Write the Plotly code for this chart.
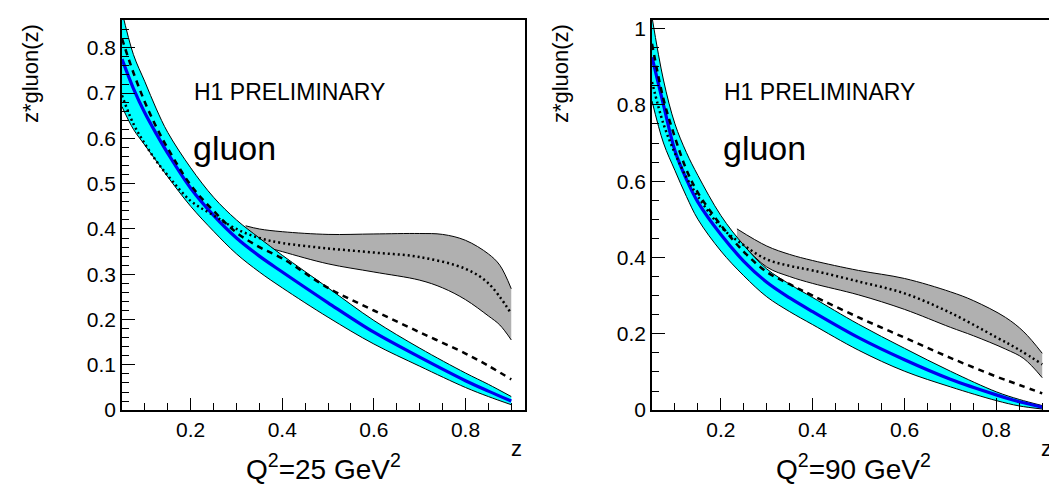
import plotly.graph_objects as go

# ---------------- data ----------------
z = [0.05, 0.075, 0.1, 0.125, 0.15, 0.2, 0.25, 0.3, 0.35, 0.4, 0.5, 0.6, 0.7, 0.8, 0.85, 0.9]

# Q^2 = 25 GeV^2
q25_cyan_hi = [0.88, 0.785, 0.725, 0.665, 0.613, 0.535, 0.47, 0.42, 0.38, 0.342, 0.27, 0.198, 0.137, 0.082, 0.057, 0.03]
q25_blue    = [0.775, 0.71, 0.656, 0.61, 0.567, 0.49, 0.43, 0.38, 0.34, 0.305, 0.237, 0.172, 0.117, 0.065, 0.042, 0.02]
q25_cyan_lo = [0.67, 0.62, 0.585, 0.55, 0.515, 0.45, 0.395, 0.345, 0.305, 0.27, 0.205, 0.146, 0.097, 0.05, 0.03, 0.012]
q25_dashed  = [0.82, 0.745, 0.68, 0.625, 0.578, 0.497, 0.44, 0.392, 0.36, 0.335, 0.27, 0.22, 0.172, 0.125, 0.098, 0.068]
q25_dotted  = [0.695, 0.632, 0.588, 0.55, 0.518, 0.462, 0.43, 0.40, 0.38, 0.369, 0.357, 0.348, 0.338, 0.312, 0.28, 0.213]
q25_zg      = [0.32, 0.35, 0.4, 0.5, 0.6, 0.7, 0.75, 0.8, 0.85, 0.875, 0.9]
q25_gray_hi = [0.407, 0.4, 0.394, 0.388, 0.389, 0.39, 0.388, 0.375, 0.345, 0.32, 0.268]
q25_gray_lo = [0.38, 0.365, 0.35, 0.323, 0.305, 0.287, 0.27, 0.244, 0.208, 0.188, 0.155]

# Q^2 = 90 GeV^2
q90_cyan_hi = [1.03, 0.865, 0.75, 0.675, 0.615, 0.51, 0.432, 0.37, 0.33, 0.295, 0.225, 0.162, 0.102, 0.048, 0.028, 0.012]
q90_blue    = [0.925, 0.8, 0.68, 0.605, 0.545, 0.46, 0.39, 0.335, 0.294, 0.258, 0.19, 0.132, 0.081, 0.04, 0.022, 0.008]
q90_cyan_lo = [0.81, 0.7, 0.628, 0.56, 0.5, 0.417, 0.352, 0.297, 0.258, 0.224, 0.157, 0.102, 0.061, 0.025, 0.011, 0.003]
q90_dashed  = [0.96, 0.815, 0.715, 0.63, 0.57, 0.485, 0.415, 0.362, 0.33, 0.3, 0.243, 0.19, 0.137, 0.088, 0.066, 0.044]
q90_dotted  = [0.86, 0.75, 0.673, 0.61, 0.56, 0.48, 0.432, 0.395, 0.378, 0.366, 0.337, 0.306, 0.255, 0.191, 0.158, 0.12]
q90_zg      = [0.235, 0.3, 0.35, 0.4, 0.5, 0.6, 0.7, 0.75, 0.82, 0.86, 0.9]
q90_gray_hi = [0.475, 0.43, 0.408, 0.392, 0.366, 0.345, 0.31, 0.287, 0.243, 0.205, 0.149]
q90_gray_lo = [0.45, 0.375, 0.35, 0.332, 0.302, 0.264, 0.217, 0.195, 0.16, 0.135, 0.085]

x_tickvals = [0.2, 0.4, 0.6, 0.8]
x_ticktext = ["0.2", "0.4", "0.6", "0.8"]
y25_tickvals = [0, 0.1, 0.2, 0.3, 0.4, 0.5, 0.6, 0.7, 0.8]
y25_ticktext = ["0", "0.1", "0.2", "0.3", "0.4", "0.5", "0.6", "0.7", "0.8"]
y90_tickvals = [0, 0.2, 0.4, 0.6, 0.8, 1.0]
y90_ticktext = ["0", "0.2", "0.4", "0.6", "0.8", "1"]

panel_labels = ["Q<sup>2</sup>=25 GeV<sup>2</sup>", "Q<sup>2</sup>=90 GeV<sup>2</sup>"]

# ---------------- figure ----------------
FONT = "Liberation Sans, Arial, Helvetica, sans-serif"
W, H = 1057, 485
CYAN = "#00ffff"
GRAY = "#b0b0b0"
BLUE = "#0000f0"

fig = go.Figure()


def add_panel(xa, ya, cyan_hi, blue, cyan_lo, dashed, dotted, zg, ghi, glo):
    common = dict(xaxis=xa, yaxis=ya, mode="lines", showlegend=False, hoverinfo="skip")
    # grey band
    fig.add_trace(go.Scatter(x=zg, y=glo, line=dict(color="black", width=1, shape="spline"), **common))
    fig.add_trace(go.Scatter(x=zg, y=ghi, fill="tonexty", fillcolor=GRAY,
                             line=dict(color="black", width=1, shape="spline"), **common))
    # cyan band
    fig.add_trace(go.Scatter(x=z, y=cyan_lo, line=dict(color="black", width=1, shape="spline"), **common))
    fig.add_trace(go.Scatter(x=z, y=cyan_hi, fill="tonexty", fillcolor=CYAN,
                             line=dict(color="black", width=1, shape="spline"), **common))
    # central blue
    fig.add_trace(go.Scatter(x=z, y=blue, line=dict(color=BLUE, width=3.2, shape="spline"), **common))
    # dashed
    fig.add_trace(go.Scatter(x=z, y=dashed, line=dict(color="black", width=2.5, dash="6px,5px", shape="spline"), **common))
    # dotted
    fig.add_trace(go.Scatter(x=z, y=dotted, line=dict(color="black", width=2.5, dash="2px,3px", shape="spline"), **common))


add_panel("x", "y", q25_cyan_hi, q25_blue, q25_cyan_lo, q25_dashed, q25_dotted, q25_zg, q25_gray_hi, q25_gray_lo)
add_panel("x2", "y2", q90_cyan_hi, q90_blue, q90_cyan_lo, q90_dashed, q90_dotted, q90_zg, q90_gray_hi, q90_gray_lo)

ydom = [1 - 411 / H, 1 - 9 / H]


def xaxis(dom, anchor):
    return dict(domain=dom, anchor=anchor, range=[0.05, 0.93], showgrid=False, zeroline=False,
                showline=True, linecolor="black", linewidth=1.5, mirror=True,
                ticks="inside", ticklen=12, tickwidth=1.2, tickcolor="black",
                tickvals=x_tickvals, ticktext=x_ticktext,
                minor=dict(tickvals=[0.05 * i for i in range(1, 19)], ticks="inside", ticklen=7,
                           tickwidth=1.2, tickcolor="black", showgrid=False),
                tickfont=dict(family=FONT, size=21, color="black"))


def yaxis(anchor, rng, tv, tt, mdt):
    n = int(round(rng[1] / mdt)) + 1
    return dict(domain=ydom, anchor=anchor, range=rng, showgrid=False, zeroline=False,
                showline=True, linecolor="black", linewidth=1.5, mirror=True,
                ticks="inside", ticklen=13, tickwidth=1.2, tickcolor="black",
                tickvals=tv, ticktext=tt,
                minor=dict(tickvals=[mdt * i for i in range(n)], ticks="inside", ticklen=7,
                           tickwidth=1.2, tickcolor="black", showgrid=False),
                tickfont=dict(family=FONT, size=21, color="black"))


fig.update_layout(
    width=W, height=H,
    margin=dict(l=0, r=0, t=0, b=0),
    paper_bgcolor="white", plot_bgcolor="white",
    xaxis=xaxis([114 / W, 517 / W], "y"),
    yaxis=yaxis("x", [0, 0.862], y25_tickvals, y25_ticktext, 0.02),
    xaxis2=xaxis([644 / W, 1048 / W], "y2"),
    yaxis2=yaxis("x2", [0, 1.023], y90_tickvals, y90_ticktext, 0.05),
)

anns = []
for off, lab in [(0, panel_labels[0]), (530, panel_labels[1])]:
    anns += [
        dict(text="H1 PRELIMINARY", x=(off + 281.5) / W, y=1 - 83 / H, font=dict(size=23)),
        dict(text="gluon", x=(off + 183) / W, y=1 - 141 / H, xanchor="left", font=dict(size=34)),
        dict(text="z*gluon(z)", x=(off + 22) / W, y=1 - 65 / H, textangle=-90, font=dict(size=22)),
        dict(text="z", x=(off + 508) / W, y=1 - 450 / H, font=dict(size=22)),
        dict(text=lab, x=(off + 315) / W, y=1 - 470 / H, font=dict(size=28)),
    ]
for a in anns:
    a.setdefault("xanchor", "center")
    a.update(xref="paper", yref="paper", yanchor="middle", showarrow=False)
    a["font"].update(family=FONT, color="black")
fig.update_layout(annotations=anns)

fig.write_html("out.html")
